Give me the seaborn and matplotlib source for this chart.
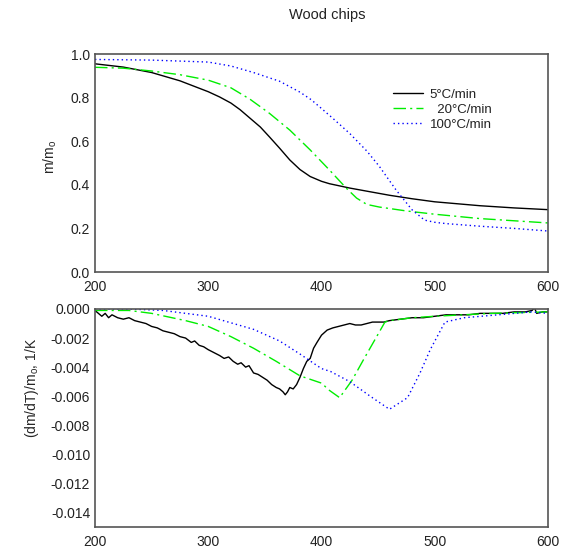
import numpy as np
import pandas as pd
import matplotlib
matplotlib.use("Agg")
import matplotlib.pyplot as plt
import seaborn as sns

# ---- data ----
series_labels = ["5°C/min", "  20°C/min", "100°C/min"]

tg5_T = [200, 225, 250, 275, 300, 310, 320, 328, 337, 346, 354, 363, 372, 381, 390, 400, 407, 425, 443, 460, 480, 500, 540, 570, 600]
tg5_v = [0.955, 0.94, 0.915, 0.877, 0.827, 0.803, 0.775, 0.745, 0.705, 0.665, 0.62, 0.568, 0.514, 0.47, 0.438, 0.416, 0.405, 0.385, 0.368, 0.352, 0.336, 0.322, 0.304, 0.294, 0.286]

tg20_T = [200, 225, 250, 275, 300, 320, 337, 354, 372, 390, 407, 422, 431, 440, 451, 475, 500, 540, 570, 600]
tg20_v = [0.939, 0.935, 0.922, 0.905, 0.88, 0.845, 0.792, 0.728, 0.651, 0.56, 0.468, 0.384, 0.339, 0.31, 0.298, 0.28, 0.265, 0.245, 0.235, 0.225]

tg100_T = [200, 250, 300, 320, 340, 363, 381, 391, 400, 410, 425, 440, 451, 466, 480, 491, 500, 510, 540, 570, 600]
tg100_v = [0.975, 0.972, 0.963, 0.945, 0.915, 0.875, 0.825, 0.79, 0.75, 0.705, 0.635, 0.555, 0.485, 0.375, 0.285, 0.238, 0.228, 0.222, 0.21, 0.20, 0.188]

dtg5_T = [200, 203, 206, 209, 212, 215, 220, 225, 230, 235, 240, 245, 250, 255, 260, 265, 270, 275, 280, 285, 288, 292, 296, 300,
          305, 310, 314, 318, 322, 326, 329, 333, 336, 340, 344, 348, 352, 356, 360, 363, 366, 368, 370, 372, 375, 378, 381, 384,
          387, 390, 393, 396, 400, 405, 410, 415, 420, 425, 430, 435, 440, 445, 450, 455, 460, 470, 480, 490, 500, 510, 520, 530,
          540, 550, 560, 570, 580, 586, 588, 590, 595, 600]
dtg5_v = [-0.0001, -0.0003, -0.0005, -0.0003, -0.0006, -0.0004, -0.0006, -0.0007, -0.0006, -0.0008, -0.0009, -0.0010, -0.0012,
          -0.0013, -0.0015, -0.0016, -0.0017, -0.0019, -0.0020, -0.0023, -0.0022, -0.0025, -0.0026, -0.0028, -0.0030, -0.0032,
          -0.0034, -0.0033, -0.0036, -0.0038, -0.0037, -0.0040, -0.0039, -0.0044, -0.0045, -0.0047, -0.0049, -0.0052, -0.0054,
          -0.0055, -0.0057, -0.0059, -0.0057, -0.0054, -0.0055, -0.0052, -0.0047, -0.0041, -0.0036, -0.0034, -0.0027, -0.0023,
          -0.0018, -0.00145, -0.0013, -0.0012, -0.0011, -0.0010, -0.0011, -0.0011, -0.0010, -0.0009, -0.0009, -0.0009, -0.0008,
          -0.0007, -0.0006, -0.0006, -0.0005, -0.0004, -0.0004, -0.0004, -0.0003, -0.0003, -0.0003, -0.0002, -0.0002, -0.0001,
          0.0001, -0.0003, -0.0002, -0.0002]

dtg20_T = [200, 230, 250, 280, 300, 320, 340, 360, 381, 400, 407, 416, 427, 437, 452, 456, 460, 480, 500, 550, 600]
dtg20_v = [-0.0001, -0.0001, -0.0003, -0.0008, -0.0012, -0.0019, -0.0027, -0.0036, -0.0046, -0.0051, -0.0056, -0.0061,
           -0.0049, -0.0035, -0.00145, -0.0009, -0.0008, -0.0006, -0.0005, -0.0003, -0.0002]

dtg100_T = [200, 230, 260, 300, 340, 363, 381, 400, 408, 425, 443, 460, 476, 487, 496, 509, 526, 556, 585, 600]
dtg100_v = [0.0, 0.0, -0.0001, -0.0005, -0.0014, -0.0022, -0.0031, -0.0041, -0.0043, -0.0050, -0.0060, -0.0069, -0.0061,
            -0.0044, -0.0028, -0.0009, -0.0006, -0.0004, -0.0002, -0.0003]

x_ticks = [200, 300, 400, 500, 600]
tg_ticks = [0.0, 0.2, 0.4, 0.6, 0.8, 1.0]
dtg_ticks = [0.000, -0.002, -0.004, -0.006, -0.008, -0.010, -0.012, -0.014]

# ---- style ----
sns.set_style("white")
plt.rcParams["font.family"] = ["Liberation Sans", "DejaVu Sans"]
plt.rcParams["font.size"] = 10
plt.rcParams["text.color"] = "#222222"

colors = ["#000000", "#00ee00", "#0000ff"]
dashes = [(None, None), (9, 3, 1.5, 3), (1, 2.2)]
FS = 10

fig = plt.figure(figsize=(5.63, 5.52), dpi=100)
ax1 = fig.add_axes([95 / 563, 1 - 272 / 552, 453 / 563, 218 / 552])
ax2 = fig.add_axes([95 / 563, 1 - 527 / 552, 453 / 563, 218 / 552])

tg = [(tg5_T, tg5_v), (tg20_T, tg20_v), (tg100_T, tg100_v)]
dtg = [(dtg5_T, dtg5_v), (dtg20_T, dtg20_v), (dtg100_T, dtg100_v)]

for i, (T, v) in enumerate(tg):
    df = pd.DataFrame({"T": T, "v": v})
    sns.lineplot(data=df, x="T", y="v", ax=ax1, color=colors[i], lw=1.0,
                 label=series_labels[i])
for i, (T, v) in enumerate(dtg):
    df = pd.DataFrame({"T": T, "v": v})
    sns.lineplot(data=df, x="T", y="v", ax=ax2, color=colors[i], lw=1.0)

for ax in (ax1, ax2):
    for ln, d in zip(ax.get_lines(), dashes):
        if d[0] is not None:
            ln.set_dashes(d)

ax1.set_xlim(200, 600)
ax1.set_ylim(0, 1.0)
ax1.set_yticks(tg_ticks)
ax1.set_yticklabels([f"{t:.1f}" for t in tg_ticks])
ax2.set_xlim(200, 600)
ax2.set_ylim(-0.015, 0.0)
ax2.set_yticks(dtg_ticks)
ax2.set_yticklabels([f"{t:.3f}" for t in dtg_ticks])

for ax in (ax1, ax2):
    ax.set_xticks(x_ticks)
    ax.set_xlabel("")
    ax.set_ylabel("")
    for s in ax.spines.values():
        s.set_color("#555555")
        s.set_linewidth(1.2)
    ax.tick_params(axis="x", direction="in", length=4, width=0.8, color="#555555",
                   pad=6, labelsize=FS, labelcolor="#222222", top=False)
    ax.tick_params(axis="y", direction="in", length=4, width=0.8, color="#555555",
                   pad=3.5, labelsize=FS, labelcolor="#222222", right=False)

ax1.set_ylabel("m/m$_\\mathregular{o}$", fontsize=FS)
ax1.yaxis.set_label_coords((59 - 95) / 453, 0.527)
ax2.set_ylabel("(dm/dT)/m$_\\mathregular{o}$, 1/K", fontsize=FS)
ax2.yaxis.set_label_coords((41 - 95) / 453, 0.638)

leg = ax1.legend(loc="upper left", bbox_to_anchor=(386 / 563, 1 - 82 / 552),
                 bbox_transform=fig.transFigure, frameon=False, borderpad=0,
                 handlelength=2.3, handletextpad=0.5, labelspacing=0.2,
                 fontsize=9.5)
for h, d in zip(leg.get_lines(), dashes):
    if d[0] is not None:
        h.set_dashes(d)

fig.text(327 / 563, 1 - 15 / 552, "Wood chips", ha="center", va="center", fontsize=10.5)

fig.savefig("out.png", dpi=100)
